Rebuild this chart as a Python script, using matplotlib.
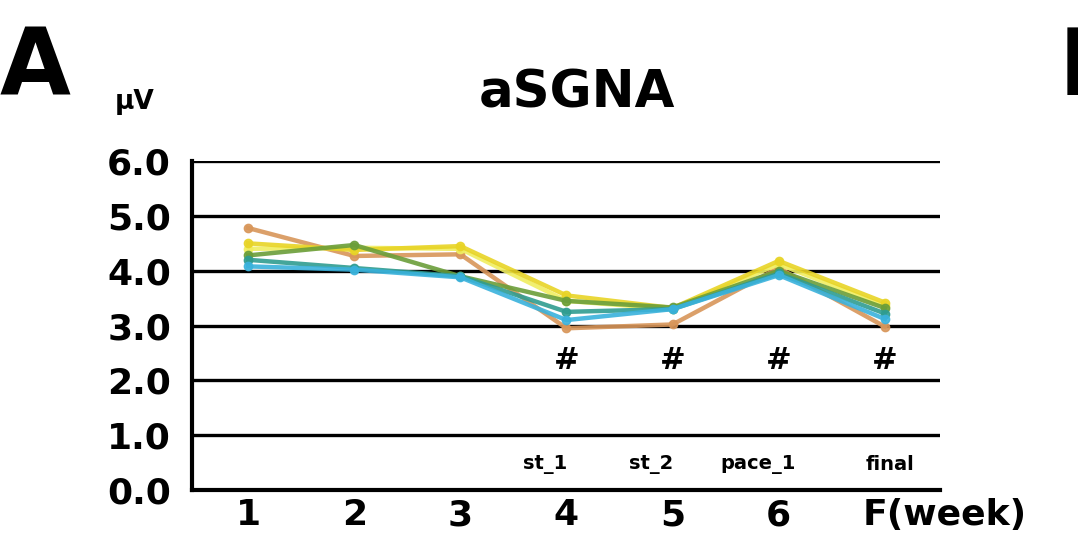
import numpy as np
import matplotlib.pyplot as plt
from matplotlib import transforms

# aSGNA amplitude per week (uV), one line per animal
weeks = ['1', '2', '3', '4', '5', '6', 'F']
orange = [4.78, 4.27, 4.30, 2.95, 3.02, 4.05, 2.98]
yellow = [4.50, 4.38, 4.45, 3.55, 3.32, 4.18, 3.42]
pale = [4.40, 4.42, 4.40, 3.45, 3.30, 4.12, 3.36]
green = [4.28, 4.47, 3.90, 3.45, 3.33, 4.00, 3.32]
teal = [4.20, 4.05, 3.90, 3.25, 3.30, 3.95, 3.22]
blue = [4.08, 4.02, 3.88, 3.10, 3.30, 3.92, 3.12]

phases = ['st_1', 'st_2', 'pace_1', 'final']
marked = ['4', '5', '6', 'F']   # weeks flagged with #

series = [(orange, '#d8965a'), (pale, '#f0ee60'), (yellow, '#e8d426'),
          (green, '#6b9e3a'), (teal, '#2f9c90'), (blue, '#3ab2dc')]

plt.rcParams['font.family'] = 'DejaVu Sans'
plt.rcParams['font.weight'] = 'bold'

fig = plt.figure(figsize=(10.78, 5.39), dpi=100)
ax = fig.add_axes([0.178, 0.091, 0.694, 0.61])

x = np.arange(1, len(weeks) + 1)
for vals, col in series:
    ax.plot(x, vals, color=col, lw=3.2, marker='o', ms=6, alpha=0.9, zorder=3)

ax.set_xlim(0.47, 7.52)
ax.set_ylim(0, 6)
yt = np.arange(0, 7, 1.0)
ax.set_yticks(yt)
ax.set_yticklabels(['%.1f' % v for v in yt], fontsize=26, fontweight='bold')
for v in yt[1:]:
    ax.axhline(v, color='black', lw=2.4, zorder=1)

ax.set_xticks(x[:-1])
ax.set_xticklabels(weeks[:-1], fontsize=26, fontweight='bold')
ax.tick_params(length=0)
ax.tick_params(axis='y', pad=15)
ax.tick_params(axis='x', pad=6)

# last tick label sits a bit left of its position and carries the unit
off = transforms.offset_copy(ax.transData, fig=fig, x=-22, y=0, units='dots')
ax.text(7, -0.15, weeks[-1] + '(week)', transform=transforms.blended_transform_factory(off, ax.transData),
        ha='left', va='top', fontsize=26, fontweight='bold')

for s in ['top', 'right']:
    ax.spines[s].set_visible(False)
ax.spines['left'].set_linewidth(3)
ax.spines['bottom'].set_linewidth(3)

# significance marks and phase names
for w in marked:
    i = weeks.index(w) + 1
    ax.text(i, 2.37, '#', ha='center', va='center', fontsize=22, fontweight='bold')
shift = [-0.2, -0.2, -0.19, 0.05]
for w, p, d in zip(marked, phases, shift):
    i = weeks.index(w) + 1
    ax.text(i + d, 0.46, p, ha='center', va='center', fontsize=14, fontweight='bold')

fig.text(0.535, 0.80, 'aSGNA', ha='center', va='baseline', fontsize=37, fontweight='bold')
fig.text(0.0, 0.824, 'A', ha='left', va='baseline', fontsize=66, fontweight='bold')
fig.text(0.106, 0.797, 'μV', ha='left', va='baseline', fontsize=19, fontweight='bold')
fig.text(0.982, 0.824, 'B', ha='left', va='baseline', fontsize=66, fontweight='bold')

fig.savefig('out.png', dpi=100)
